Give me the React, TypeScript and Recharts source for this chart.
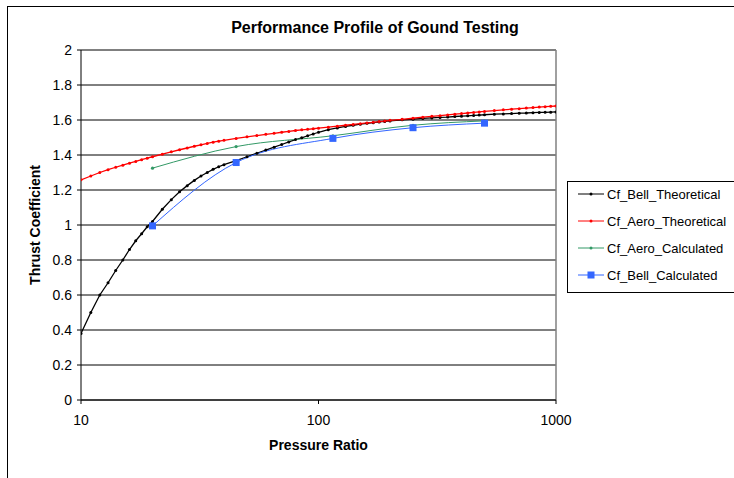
import { LineChart, Line, XAxis, YAxis, CartesianGrid, ReferenceLine, Label } from 'recharts';

// pressure ratios sampled for the theoretical curves
const PR_THEORY = [
  10, 11, 12, 13, 14, 15, 16, 17, 18, 19, 20, 22, 24, 26, 28, 30, 32, 34, 36, 38, 40,
  45, 50, 55, 60, 65, 70, 75, 80, 85, 90, 95, 100, 110, 120, 130, 140, 150, 160, 170,
  180, 190, 200, 225, 250, 275, 300, 325, 350, 375, 400, 425, 450, 475, 500, 550, 600,
  650, 700, 750, 800, 850, 900, 950, 1000,
];
const BELL_THEORY = [
  0.38, 0.5, 0.6, 0.67, 0.74, 0.8, 0.86, 0.91, 0.95, 0.99, 1.02, 1.09, 1.145, 1.19, 1.225,
  1.255, 1.28, 1.3, 1.318, 1.333, 1.345, 1.368, 1.39, 1.41, 1.428, 1.445, 1.46, 1.475,
  1.488, 1.498, 1.51, 1.52, 1.53, 1.545, 1.555, 1.563, 1.57, 1.576, 1.581, 1.585, 1.589,
  1.592, 1.595, 1.601, 1.605, 1.609, 1.612, 1.615, 1.617, 1.62, 1.622, 1.624, 1.626,
  1.628, 1.63, 1.633, 1.635, 1.637, 1.639, 1.64, 1.642, 1.643, 1.644, 1.645, 1.646,
];
const AERO_THEORY = [
  1.258, 1.28, 1.3, 1.316, 1.33, 1.342, 1.353, 1.363, 1.373, 1.382, 1.39, 1.405, 1.418,
  1.43, 1.44, 1.45, 1.458, 1.466, 1.473, 1.479, 1.484, 1.495, 1.504, 1.511, 1.518, 1.524,
  1.53, 1.535, 1.54, 1.544, 1.547, 1.55, 1.553, 1.559, 1.565, 1.57, 1.575, 1.579, 1.583,
  1.587, 1.591, 1.594, 1.598, 1.604, 1.61, 1.616, 1.621, 1.625, 1.629, 1.633, 1.637,
  1.64, 1.643, 1.646, 1.649, 1.654, 1.658, 1.662, 1.665, 1.668, 1.671, 1.674, 1.676,
  1.678, 1.68,
];

// test points
const PR_TEST = [20, 45, 115, 250, 500];
const AERO_CALC = [1.325, 1.448, 1.51, 1.57, 1.595];
const BELL_CALC = [0.995, 1.357, 1.495, 1.556, 1.582];

const X_TICKS = [10, 100, 1000];
const Y_TICKS = [0, 0.2, 0.4, 0.6, 0.8, 1, 1.2, 1.4, 1.6, 1.8, 2];

const FONT = 'Arial, "Liberation Sans", Helvetica, sans-serif';

const pairs = (xs: number[], ys: number[]) => xs.map((pr, i) => ({ pr, cf: ys[i] }));

const SERIES = [
  { name: 'Cf_Bell_Theoretical', color: '#000000', data: pairs(PR_THEORY, BELL_THEORY), marker: 'dot' },
  { name: 'Cf_Aero_Theoretical', color: '#FF0000', data: pairs(PR_THEORY, AERO_THEORY), marker: 'dot' },
  { name: 'Cf_Aero_Calculated', color: '#339966', data: pairs(PR_TEST, AERO_CALC), marker: 'small' },
  { name: 'Cf_Bell_Calculated', color: '#3366FF', data: pairs(PR_TEST, BELL_CALC), marker: 'square' },
];

function makeDot(marker: string, color: string) {
  return (props: any) => {
    const { cx, cy, key } = props;
    if (cx == null || cy == null) return <g key={key} />;
    if (marker === 'square') {
      return <rect key={key} x={cx - 3.5} y={cy - 3.5} width={7} height={7} fill={color} />;
    }
    if (marker === 'small') {
      return <circle key={key} cx={cx} cy={cy} r={1.6} fill={color} />;
    }
    return <circle key={key} cx={cx} cy={cy} r={1.5} fill={color} />;
  };
}

function LegendBox() {
  return (
    <div
      style={{
        position: 'absolute',
        left: 567,
        top: 181,
        width: 180,
        height: 110,
        border: '1px solid #000',
        background: '#fff',
        fontFamily: FONT,
        fontSize: 13,
        color: '#000',
      }}
    >
      {SERIES.map((s, i) => (
        <div key={s.name} style={{ position: 'absolute', left: 10, top: 3 + i * 27, height: 18, display: 'flex', alignItems: 'center', whiteSpace: 'nowrap' }}>
          <svg width={27} height={10} style={{ marginRight: 2 }}>
            <line x1={0} y1={5} x2={26} y2={5} stroke={s.color} strokeWidth={1} />
            {s.marker === 'square' ? (
              <rect x={9.5} y={1.5} width={7} height={7} fill={s.color} />
            ) : (
              <circle cx={13} cy={5} r={1.5} fill={s.color} />
            )}
          </svg>
          <span>{s.name}</span>
        </div>
      ))}
    </div>
  );
}

export default function App() {
  return (
    <div style={{ position: 'absolute', left: 0, top: 0, width: 734, height: 478, overflow: 'hidden', background: '#fff', fontFamily: FONT }}>
      <div style={{ position: 'absolute', left: 7, top: 6, width: 760, height: 500, border: '1px solid #000' }} />
      <div
        style={{
          position: 'absolute',
          left: 175,
          width: 400,
          top: 19,
          textAlign: 'center',
          fontWeight: 'bold',
          fontSize: 16,
        }}
      >
        Performance Profile of Gound Testing
      </div>
      <div style={{ position: 'absolute', left: 0, top: 0 }}>
        <LineChart width={734} height={478} margin={{ top: 50, right: 178, bottom: 28, left: 31 }}>
          <CartesianGrid vertical={false} stroke="#000" strokeDasharray="0" />
          <XAxis
            type="number"
            dataKey="pr"
            scale="log"
            domain={[10, 1000]}
            ticks={X_TICKS}
            allowDataOverflow
            height={50}
            stroke="#000"
            tickSize={4}
            tickMargin={11}
            tick={{ fill: '#000', fontSize: 14, fontFamily: FONT }}
          >
            <Label value="Pressure Ratio" position="insideBottom" offset={0} style={{ fontWeight: 'bold', fontSize: 14, fill: '#000', fontFamily: FONT }} />
          </XAxis>
          <YAxis
            type="number"
            domain={[0, 2]}
            ticks={Y_TICKS}
            width={50}
            stroke="#000"
            tickSize={4}
            tickMargin={5}
            tickFormatter={(v: number) => String(Number(v.toFixed(1)))}
            tick={{ fill: '#000', fontSize: 14, fontFamily: FONT }}
          >
            <Label
              value="Thrust Coefficient"
              angle={-90}
              position="insideLeft"
              offset={4}
              style={{ textAnchor: 'middle', fontWeight: 'bold', fontSize: 14, fill: '#000', fontFamily: FONT }}
            />
          </YAxis>
          <ReferenceLine x={1000} stroke="#808080" strokeWidth={1.5} />
          {SERIES.map((s) => (
            <Line
              key={s.name}
              data={s.data}
              dataKey="cf"
              name={s.name}
              type={s.marker === 'dot' ? 'linear' : 'monotone'}
              stroke={s.color}
              strokeWidth={s.marker === 'dot' ? 1.3 : 1}
              dot={makeDot(s.marker, s.color)}
              activeDot={false}
              isAnimationActive={false}
            />
          ))}
        </LineChart>
      </div>
      <LegendBox />
    </div>
  );
}
